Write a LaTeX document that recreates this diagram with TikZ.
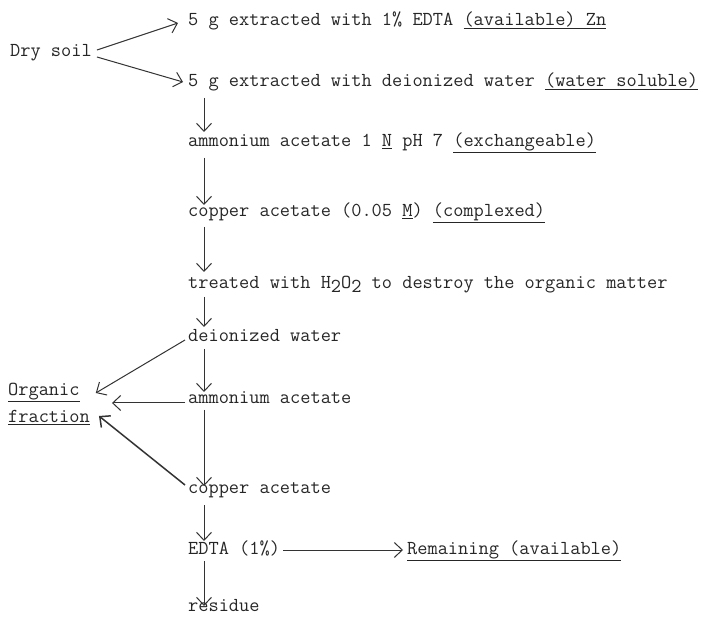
\documentclass[tikz,border=0pt]{standalone}
\usetikzlibrary{arrows.meta}
\begin{document}
\begin{tikzpicture}[x=1pt,y=-1pt,
  txt/.style={anchor=west,inner sep=0pt,text height=10pt,text depth=3pt,
    font=\fontsize{19.8}{24}\selectfont\ttfamily,text=black!85},
  arr/.style={-{Straight Barb[length=8pt,width=15pt]},line width=1pt,draw=black!80},
  boldarr/.style={arr,line width=1.5pt},
]
\fill[white] (0,0) rectangle (718,620);
\useasboundingbox (0,0) rectangle (718,620);

\node[txt] (dry) at (10,53) {Dry soil};
\node[txt] (e1) at (188,22) {5 g extracted with 1\% EDTA \underline{(available) Zn}};
\node[txt] (e2) at (188,83) {5 g extracted with deionized water \underline{(water soluble)}};
\node[txt] (nh1) at (188,143) {ammonium acetate 1 \underline{N} pH 7 \underline{(exchangeable)}};
\node[txt] (cu1) at (188,213) {copper acetate (0.05 \underline{M}) \underline{(complexed)}};
\node[txt] (h2o2) at (188,285) {treated with H\raisebox{-0.45ex}{2}O\raisebox{-0.45ex}{2} to destroy the organic matter};
\node[txt] (dw) at (188,338) {deionized water};
\node[txt] (nh2) at (188,400) {ammonium acetate};
\node[txt] (cu2) at (188,490) {copper acetate};
\node[txt] (edta) at (188,551) {EDTA (1\%)};
\node[txt] (res) at (188,608) {residue};
\node[txt] (rem) at (407,551) {\underline{Remaining (available)}};
\node[txt] (orgA) at (8,392) {\underline{Organic}};
\node[txt] (orgB) at (8,419) {\underline{fraction}};

% from dry soil
\draw[arr] ([shift={(5,-3)}]dry.east) -- ([shift={(-10,1)}]e1.west);
\draw[arr] ([shift={(5,4)}]dry.east) -- ([shift={(-5,-1)}]e2.west);

% main column
\draw[arr] ([shift={(16,15)}]e2.west) -- ([shift={(16,-11)}]nh1.west);
\draw[arr] ([shift={(16,15)}]nh1.west) -- ([shift={(16,-8)}]cu1.west);
\draw[arr] ([shift={(16,14)}]cu1.west) -- ([shift={(16,-13)}]h2o2.west);
\draw[arr] ([shift={(16,12)}]h2o2.west) -- ([shift={(16,-11)}]dw.west);
\draw[arr] ([shift={(16,11)}]dw.west) -- ([shift={(16,-8)}]nh2.west);
\draw[arr] ([shift={(16,10)}]nh2.west) -- ([shift={(16,-4)}]cu2.west);
\draw[arr] ([shift={(16,15)}]cu2.west) -- ([shift={(16,-10)}]edta.west);
\draw[arr] ([shift={(16,10)}]edta.west) -- ([shift={(16,-2)}]res.west);

% to organic fraction
\draw[arr] ([shift={(-3,2)}]dw.west) -- ([shift={(16,1)}]orgA.east);
\draw[arr] ([shift={(-3,3)}]nh2.west) -- ([shift={(22,-16)}]orgB.east);
\draw[boldarr] ([shift={(-3,-5)}]cu2.west) -- ([shift={(9,-3)}]orgB.east);

% to remaining
\draw[arr] ([shift={(3,-1)}]edta.east) -- ([shift={(-4,-1)}]rem.west);
\end{tikzpicture}
\end{document}
